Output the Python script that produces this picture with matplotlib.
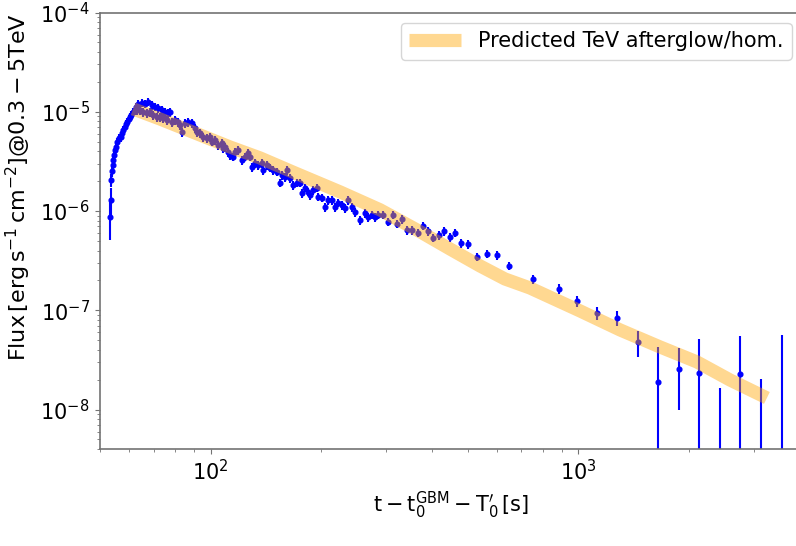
import numpy as np
import matplotlib
matplotlib.use("Agg")
import matplotlib.pyplot as plt

# Measured TeV light curve: time since trigger [s], flux [erg s^-1 cm^-2], 1-sigma error
t_obs = [53.3, 53.5, 53.7, 53.9, 54.2, 54.3, 54.7, 55.0, 55.4, 55.7, 56.4, 57.1, 57.5, 57.8,
         58.6, 58.9, 59.3, 60.0, 60.4, 60.8, 61.6, 62.3, 62.7, 63.5, 65.1, 66.4, 67.6, 69.3,
         70.7, 72.0, 73.8, 75.2, 76.6, 77.6, 63.1, 64.3, 65.6, 67.2, 68.5, 69.8, 71.5, 72.9,
         74.3, 76.2, 78.6, 80.1, 81.6, 82.6, 83.7, 85.2, 86.9, 89.1, 90.8, 91.9, 93.6, 95.4,
         97.8, 99.7, 100.9, 102.9, 104.8, 107.5, 109.5, 111.6, 108.1, 113.0, 115.1, 116.6,
         118.8, 121.8, 124.1, 126.4, 128.0, 129.6, 132.1, 134.6, 138.0, 138.9, 142.4, 145.1,
         147.8, 151.6, 154.5, 156.5, 159.4, 161.4, 164.4, 167.5, 171.8, 175.1, 177.3, 180.7,
         184.1, 186.4, 189.9, 194.7, 196.0, 200.9, 204.7, 208.6, 213.9, 217.9, 222.1, 227.7,
         232.1, 236.4, 242.4, 247.0, 254.9, 263.0, 267.9, 274.7, 279.9, 285.2, 294.3, 303.7,
         313.3, 321.3, 331.4, 342.0, 352.8, 366.3, 378.0, 389.9, 402.3, 417.7, 431.0, 447.5,
         461.7, 479.4, 500.8, 530.0, 564.1, 600.5, 647.4, 752.0, 885.1, 990.6, 1123.0, 1272.0,
         1451.0, 1644.0, 1876.0, 2126.0, 2424.0, 2747.0, 3133.0, 3573.0]
f_obs = [8.72e-7, 1.29e-6, 2.06e-6, 2.53e-6, 2.91e-6, 3.27e-6, 3.67e-6, 4.12e-6, 4.42e-6,
         4.97e-6, 5.45e-6, 5.57e-6, 6.12e-6, 6.56e-6, 7.03e-6, 7.54e-6, 7.89e-6, 8.46e-6,
         8.86e-6, 9.29e-6, 9.95e-6, 1.04e-5, 1.12e-5, 1.20e-5, 1.23e-5, 1.20e-5, 1.26e-5,
         1.17e-5, 1.12e-5, 1.09e-5, 1.04e-5, 9.95e-6, 9.73e-6, 9.95e-6, 1.04e-5, 1.04e-5,
         9.95e-6, 9.73e-6, 9.95e-6, 9.29e-6, 8.86e-6, 8.86e-6, 8.66e-6, 8.27e-6, 7.89e-6,
         8.27e-6, 7.89e-6, 7.36e-6, 6.26e-6, 7.71e-6, 7.89e-6, 7.71e-6, 6.87e-6, 6.26e-6,
         6.12e-6, 5.57e-6, 5.45e-6, 5.57e-6, 4.97e-6, 5.20e-6, 4.63e-6, 4.85e-6, 4.42e-6,
         3.94e-6, 4.32e-6, 3.67e-6, 3.51e-6, 3.94e-6, 4.12e-6, 3.27e-6, 3.51e-6, 3.85e-6,
         3.51e-6, 2.78e-6, 3.05e-6, 2.91e-6, 3.05e-6, 2.59e-6, 2.91e-6, 2.72e-6, 2.59e-6,
         2.48e-6, 1.92e-6, 2.31e-6, 2.20e-6, 2.59e-6, 2.15e-6, 1.83e-6, 1.92e-6, 1.92e-6,
         1.52e-6, 1.71e-6, 1.56e-6, 1.45e-6, 1.63e-6, 1.71e-6, 1.39e-6, 1.36e-6, 1.10e-6,
         1.29e-6, 1.29e-6, 1.10e-6, 1.21e-6, 1.15e-6, 1.07e-6, 1.29e-6, 1.10e-6, 9.79e-7,
         8.13e-7, 9.57e-7, 8.72e-7, 9.14e-7, 8.72e-7, 9.14e-7, 9.14e-7, 7.77e-7, 9.14e-7,
         7.42e-7, 8.32e-7, 6.45e-7, 6.45e-7, 6.02e-7, 7.08e-7, 6.30e-7, 5.36e-7, 5.74e-7,
         6.30e-7, 5.48e-7, 6.02e-7, 4.77e-7, 4.66e-7, 3.45e-7, 3.70e-7, 3.61e-7, 2.80e-7,
         2.07e-7, 1.64e-7, 1.24e-7, 9.41e-8, 8.38e-8, 4.81e-8, 1.91e-8, 2.58e-8, 2.35e-8,
         -5.0e-9, 2.29e-8, -3.0e-9, -1.0e-8]
# errors: early rise points, relative error of the dense section, late sparse points
e_early = [3.6e-7, 4.0e-7, 3.0e-7, 3.0e-7]
rel_err_dense = 0.10
e_late = [1.9e-8, 1.6e-8, 1.4e-8, 1.5e-8, 1.45e-8, 2.37e-8, 1.58e-8, 2.8e-8,
          2.16e-8, 3.2e-8, 2.34e-8, 6.65e-8]
n_late = len(e_late)
e_obs = e_early + [f * rel_err_dense for f in f_obs[len(e_early):len(f_obs) - n_late]] + e_late

# Predicted TeV afterglow (homogeneous medium)
t_model = [61.6, 72.9, 93.6, 113.0, 136.3, 169.7, 224.9, 288.9, 364.0, 447.5, 540.0,
           631.0, 738.0, 1010.0, 1297.0, 1665.0, 2099.0, 2580.0, 3252.0]
f_model = [1.07e-5, 8.46e-6, 5.84e-6, 4.42e-6, 3.43e-6, 2.42e-6, 1.56e-6, 1.03e-6,
           6.45e-7, 4.15e-7, 2.80e-7, 2.07e-7, 1.68e-7, 9.86e-8, 6.35e-8, 4.28e-8,
           3.02e-8, 1.99e-8, 1.31e-8]

fig = plt.figure(figsize=(7.96, 5.46), dpi=100)
ax = fig.add_axes([0.125, 0.1775, 0.8825, 0.7995])

ax.set_xscale("log")
ax.set_yscale("log")

ax.errorbar(t_obs, f_obs, yerr=e_obs, fmt="o", color="blue", ms=3.4,
            elinewidth=1.5, capsize=0, zorder=2)
ax.plot(t_model, f_model, color="orange", alpha=0.43, lw=9.5,
        solid_capstyle="butt", label="Predicted TeV afterglow/hom.", zorder=3)

ax.set_xlim(49.9, 4050)
ax.set_ylim(4.0e-9, 1e-4)

ax.set_xlabel(r"$\mathrm{t-t_0^{GBM}-T_0'\,[s]}$", fontsize=15)
ax.set_ylabel(r"$\mathrm{Flux\,[erg\,s^{-1}\,cm^{-2}]@0.3-5TeV}$", fontsize=16)
ax.yaxis.set_label_coords(-0.095, 0.60)
ax.tick_params(axis="both", which="major", labelsize=15, color="0.45", length=3.5)
ax.tick_params(axis="both", which="minor", color="0.45", length=2)
for sp in ax.spines.values():
    sp.set_color("0.45")
    sp.set_linewidth(1.2)

ax.legend(loc="upper right", fontsize=15, handlelength=2.5)

fig.savefig("out.png", dpi=100)
